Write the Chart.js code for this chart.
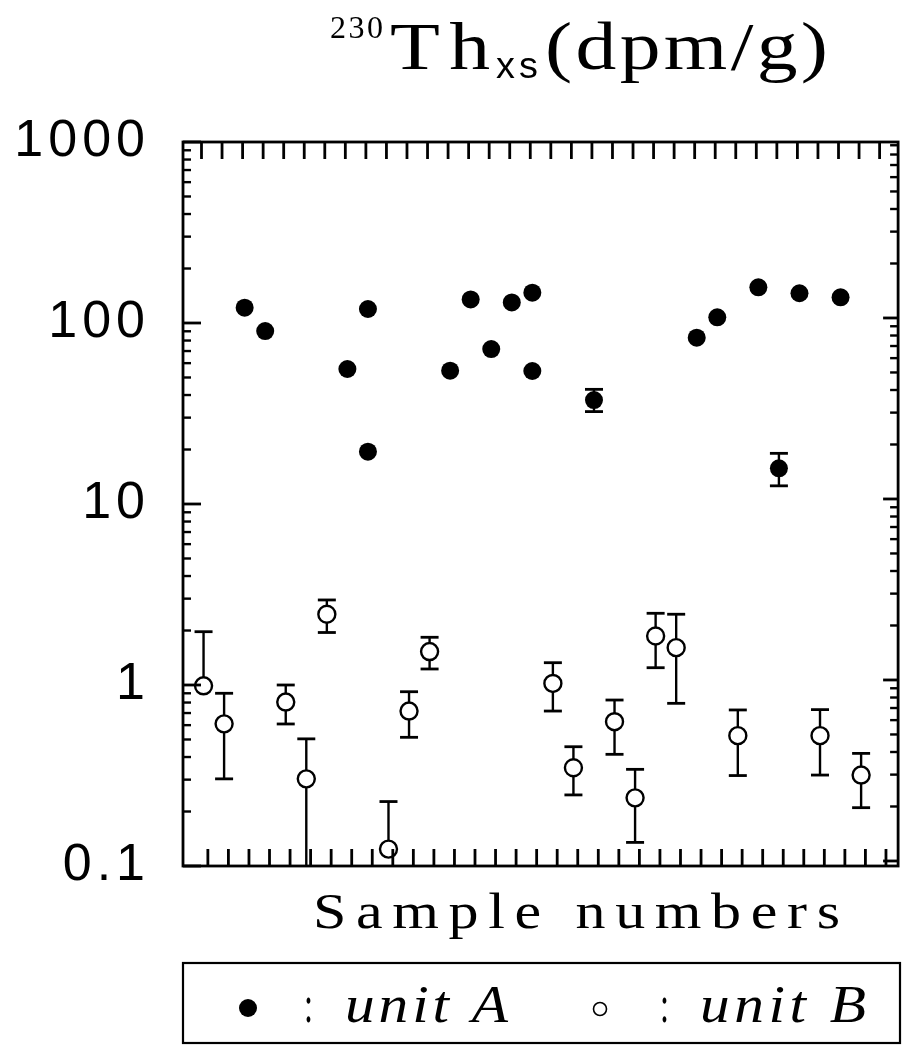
<!DOCTYPE html>
<html>
<head>
<meta charset="utf-8">
<script src="https://cdn.jsdelivr.net/npm/chart.js@4.4.1/dist/chart.umd.min.js"></script>
<style>
  html, body { margin: 0; padding: 0; background: #fff; }
  #wrap { width: 909px; height: 1045px; }
</style>
</head>
<body>
<div id="wrap"><canvas id="c" width="909" height="1045"></canvas></div>
<script>
// ---------------- data ----------------
const sampleA = [3, 4, 8, 9, 9, 13, 14, 15, 16, 17, 17, 20, 25, 26, 28, 29, 30, 32];
const thA     = [121.5, 90.3, 55.7, 119.5, 19.45, 54.5, 135, 71.8, 130, 147, 54.3, 37.5, 83, 107.5, 157.5, 15.75, 146, 138.7];
const lowA    = [null, null, null, null, null, null, null, null, null, null, null, 32.4, null, null, null, 12.6, null, null];
const highA   = [null, null, null, null, null, null, null, null, null, null, null, 43.0, null, null, null, 19.05, null, null];

const sampleB = [1, 2, 5, 6, 7, 10, 11, 12, 18, 19, 21, 22, 23, 24, 27, 31, 33];
const thB     = [0.99, 0.61, 0.805, 0.303, 2.46, 0.124, 0.718, 1.53, 1.02, 0.349, 0.627, 0.238, 1.865, 1.608, 0.525, 0.525, 0.318];
const highB   = [1.97, 0.90, 1.0, 0.504, 2.95, 0.227, 0.918, 1.835, 1.328, 0.456, 0.826, 0.342, 2.49, 2.46, 0.728, 0.731, 0.419];
const lowB    = [null, 0.303, 0.609, 0.09, 1.95, null, 0.514, 1.226, 0.718, 0.247, 0.414, 0.135, 1.246, 0.792, 0.316, 0.318, 0.21];

const yTickValues = [0.1, 1, 10, 100, 1000];
const yTickLabels = ['0.1', '1', '10', '100', '1000'];
const sampleTicks = [1,2,3,4,5,6,7,8,9,10,11,12,13,14,15,16,17,18,19,20,21,22,23,24,25,26,27,28,29,30,31,32,33,34];
const minorMult = [2, 3, 4, 5, 6, 7, 8, 9];

const titleIso = '230';
const titleMain = 'Th';
const titleSub = 'xs';
const titleUnit = '(dpm/g)';
const xTitle = 'Sample numbers';
const legendA = 'unit A';
const legendB = 'unit B';

// slight skew of the scanned frame (in axis units)
const TOP_TICK_SHIFT = -0.10;
const BOT_TICK_SHIFT = 0.21;
const RIGHT_AXIS_FACTOR = 1.066;

// ---------------- helpers ----------------
function drawFit(ctx, text, font, left, right, baseline, sx) {
  ctx.save();
  ctx.font = font;
  if ('letterSpacing' in ctx) ctx.letterSpacing = '0px';
  const nat = ctx.measureText(text).width;
  const n = Array.from(text).length;
  ctx.translate(left, baseline);
  ctx.textAlign = 'left';
  ctx.textBaseline = 'alphabetic';
  if ('letterSpacing' in ctx && n > 1) {
    ctx.scale(sx, 1);
    const ls = ((right - left) / sx - nat) / (n - 1);
    ctx.letterSpacing = ls.toFixed(2) + 'px';
  } else {
    ctx.scale((right - left) / nat, 1);
  }
  ctx.fillStyle = '#000';
  ctx.fillText(text, 0, 0);
  ctx.restore();
}

const spacingPlugin = {
  id: 'spacing',
  beforeDraw(chart) {
    if ('letterSpacing' in chart.ctx) chart.ctx.letterSpacing = '5px';
  }
};

const errorBarPlugin = {
  id: 'errorBars',
  beforeDatasetsDraw(chart) {
    const ctx = chart.ctx;
    const area = chart.chartArea;
    ctx.save();
    ctx.beginPath();
    ctx.rect(area.left, area.top, area.right - area.left, area.bottom - area.top);
    ctx.clip();
    ctx.strokeStyle = '#000';
    ctx.lineCap = 'butt';
    const sets = [[sampleA, thA, lowA, highA], [sampleB, thB, lowB, highB]];
    const xs = chart.scales.x, ys = chart.scales.y;
    sets.forEach(([sx, val, lo, hi]) => {
      sx.forEach((xv, i) => {
        const px = xs.getPixelForValue(xv);
        const pv = ys.getPixelForValue(val[i]);
        const top = hi[i] != null ? ys.getPixelForValue(hi[i]) : pv;
        const bot = lo[i] != null ? ys.getPixelForValue(lo[i]) : pv;
        if (top === pv && bot === pv) return;
        ctx.lineWidth = 2.4;
        ctx.beginPath();
        ctx.moveTo(px, top);
        ctx.lineTo(px, bot);
        ctx.stroke();
        ctx.lineWidth = 2.8;
        if (hi[i] != null) {
          ctx.beginPath(); ctx.moveTo(px - 9, top); ctx.lineTo(px + 9, top); ctx.stroke();
        }
        if (lo[i] != null) {
          ctx.beginPath(); ctx.moveTo(px - 9, bot); ctx.lineTo(px + 9, bot); ctx.stroke();
        }
      });
    });
    ctx.restore();
  }
};

const framePlugin = {
  id: 'frameTicks',
  afterDatasetsDraw(chart) {
    const ctx = chart.ctx;
    const a = chart.chartArea;
    const xs = chart.scales.x, ys = chart.scales.y;
    ctx.save();
    ctx.strokeStyle = '#000';
    ctx.lineCap = 'butt';
    ctx.lineWidth = 2.8;
    sampleTicks.forEach(v => {
      const pt = xs.getPixelForValue(v + TOP_TICK_SHIFT);
      if (pt > a.left + 2 && pt < a.right - 2) {
        ctx.beginPath(); ctx.moveTo(pt, a.top); ctx.lineTo(pt, a.top + 17); ctx.stroke();
      }
      const pb = xs.getPixelForValue(v + BOT_TICK_SHIFT);
      if (pb > a.left + 2 && pb < a.right - 2) {
        ctx.beginPath(); ctx.moveTo(pb, a.bottom); ctx.lineTo(pb, a.bottom - 17); ctx.stroke();
      }
    });
    yTickValues.forEach(d => {
      const pl = ys.getPixelForValue(d);
      if (pl >= a.top - 1 && pl <= a.bottom + 1) {
        ctx.lineWidth = 2.8;
        ctx.beginPath(); ctx.moveTo(a.left, pl); ctx.lineTo(a.left + 18, pl); ctx.stroke();
      }
      const pr = ys.getPixelForValue(d * RIGHT_AXIS_FACTOR);
      if (pr >= a.top && pr <= a.bottom) {
        ctx.lineWidth = 2.8;
        ctx.beginPath(); ctx.moveTo(a.right, pr); ctx.lineTo(a.right - 15, pr); ctx.stroke();
      }
      minorMult.forEach(m => {
        const v = d * m;
        ctx.lineWidth = 2.4;
        const p1 = ys.getPixelForValue(v);
        if (p1 > a.top + 1 && p1 < a.bottom - 1) {
          ctx.beginPath(); ctx.moveTo(a.left, p1); ctx.lineTo(a.left + 8, p1); ctx.stroke();
        }
        const p2 = ys.getPixelForValue(v * RIGHT_AXIS_FACTOR);
        if (p2 > a.top + 1 && p2 < a.bottom - 1) {
          ctx.beginPath(); ctx.moveTo(a.right, p2); ctx.lineTo(a.right - 8, p2); ctx.stroke();
        }
      });
    });
    ctx.lineWidth = 2.8;
    ctx.strokeRect(a.left, a.top, a.right - a.left, a.bottom - a.top);
    ctx.restore();
  }
};

const textPlugin = {
  id: 'texts',
  afterDraw(chart) {
    const ctx = chart.ctx;
    const a = chart.chartArea;
    ctx.save();
    // title
    drawFit(ctx, titleIso, '32px "Liberation Serif"', 330, 383, 38, 1.0);
    drawFit(ctx, titleMain, '68px "Liberation Serif"', 390, 490, 69, 1.2);
    drawFit(ctx, titleSub, '36px "Liberation Sans"', 496, 538, 78, 1.05);
    drawFit(ctx, titleUnit, '68px "Liberation Serif"', 545, 828, 69, 1.2);
    // x axis title
    drawFit(ctx, xTitle, '50px "Liberation Serif"', 313, 840, 928, 1.2);
    // legend box
    ctx.strokeStyle = '#000';
    ctx.lineWidth = 2.2;
    ctx.strokeRect(a.left, 963, 900 - a.left, 80);
    // legend markers
    ctx.fillStyle = '#000';
    ctx.beginPath(); ctx.arc(248, 1008, 9, 0, Math.PI * 2); ctx.fill();
    ctx.lineWidth = 1.6;
    ctx.beginPath(); ctx.arc(600, 1009, 6.5, 0, Math.PI * 2); ctx.stroke();
    // legend texts
    drawFit(ctx, ':', '52px "Liberation Serif"', 304, 313, 1022, 1.0);
    drawFit(ctx, legendA, 'italic 53px "Liberation Serif"', 345, 508, 1022, 1.12);
    drawFit(ctx, ':', '52px "Liberation Serif"', 660, 669, 1022, 1.0);
    drawFit(ctx, legendB, 'italic 53px "Liberation Serif"', 700, 866, 1022, 1.12);
    ctx.restore();
  }
};

// ---------------- chart ----------------
new Chart(document.getElementById('c'), {
  type: 'scatter',
  data: {
    datasets: [
      {
        label: 'unit A',
        data: sampleA.map((x, i) => ({ x: x, y: thA[i] })),
        xAxisID: 'x', yAxisID: 'y',
        pointRadius: 9, pointHoverRadius: 9,
        backgroundColor: '#000', borderColor: '#000', borderWidth: 0,
        showLine: false
      },
      {
        label: 'unit B',
        data: sampleB.map((x, i) => ({ x: x, y: thB[i] })),
        xAxisID: 'x', yAxisID: 'y',
        pointRadius: 8.5, pointHoverRadius: 8.5,
        backgroundColor: '#fff', borderColor: '#000', borderWidth: 2.4,
        showLine: false
      }
    ]
  },
  options: {
    responsive: false,
    animation: false,
    devicePixelRatio: 1,
    events: [],
    layout: { padding: { top: 142, right: 1, bottom: 179, left: 0 } },
    plugins: {
      legend: { display: false },
      tooltip: { enabled: false },
      title: { display: false }
    },
    scales: {
      x: { type: 'linear', axis: 'x', position: 'bottom', min: 0, max: 34.8, display: false },
      y: {
        type: 'logarithmic', axis: 'y', position: 'left', min: 0.1, max: 1000,
        grid: { display: false, drawTicks: false },
        border: { display: false },
        ticks: {
          color: '#000',
          padding: 33,
          font: { family: 'Liberation Sans', size: 52 },
          autoSkip: false,
          callback: (value) => {
            const i = yTickValues.findIndex(t => Math.abs(t - value) / t < 1e-6);
            return i >= 0 ? yTickLabels[i] : '';
          }
        },
        afterBuildTicks: (s) => { s.ticks = yTickValues.map(v => ({ value: v, major: true })); },
        afterFit: (s) => { s.width = 183; }
      }
    }
  },
  plugins: [spacingPlugin, errorBarPlugin, framePlugin, textPlugin]
});
</script>
</body>
</html>
